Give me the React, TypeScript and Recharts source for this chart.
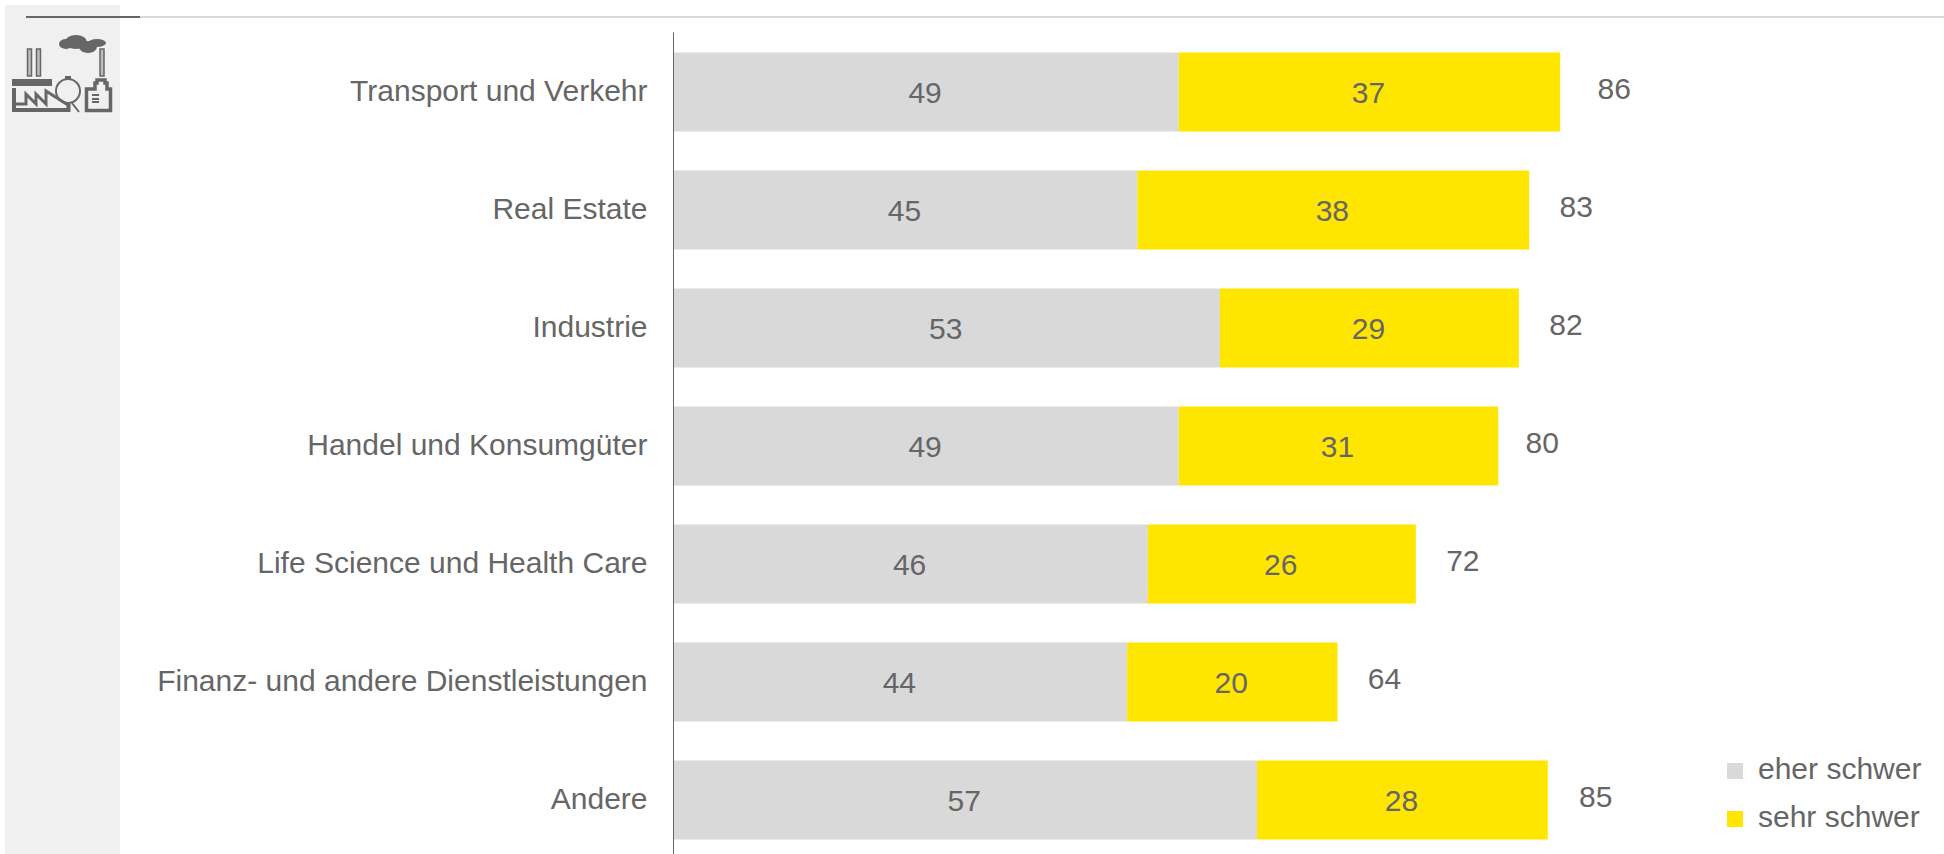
import { Bar, BarChart, LabelList, XAxis, YAxis } from "recharts";

const categories = [
  "Transport und Verkehr",
  "Real Estate",
  "Industrie",
  "Handel und Konsumgüter",
  "Life Science und Health Care",
  "Finanz- und andere Dienstleistungen",
  "Andere",
];
const eherSchwer = [49, 45, 53, 49, 46, 44, 56.6];
const sehrSchwer = [37, 38, 29, 31, 26, 20.4, 28.2];
const totals = [86, 83, 82, 80, 72, 64, 85];

const rows = categories.map((name, i) => ({
  name,
  eher: eherSchwer[i],
  sehr: sehrSchwer[i],
  total: totals[i],
}));

const FONT = '"Liberation Sans", Arial, sans-serif';
const TEXT = "#666666";
const GREY = "#d9d9d9";
const YELLOW = "#ffe600";

// the totals sit by hand in the original, not all at the same gap from the bar
const totalGap: Record<string, number> = { "86": 54, "80": 44, "85": 48 };

function TotalLabel({ x, y, width, height, value }: any) {
  return (
    <text
      x={x + width + (totalGap[value] ?? 47)}
      y={y + height / 2 - 4}
      textAnchor="middle"
      dominantBaseline="central"
      fontSize={30}
      fontFamily={FONT}
      fill={TEXT}
    >
      {value}
    </text>
  );
}

function InnerLabel({ x, y, width, height, value }: any) {
  return (
    <text
      x={x + width / 2 - 1}
      y={y + height / 2}
      textAnchor="middle"
      dominantBaseline="central"
      fontSize={30}
      fontFamily={FONT}
      fill={TEXT}
    >
      {Math.round(value)}
    </text>
  );
}

function LegendBox() {
  const items = [
    { label: "eher schwer", color: GREY },
    { label: "sehr schwer", color: YELLOW },
  ];
  return (
    <div style={{ position: "absolute", left: 1727, top: 746, fontFamily: FONT, fontSize: 30, color: TEXT }}>
      {items.map((item) => (
        <div key={item.label} style={{ display: "flex", alignItems: "center", height: 48 }}>
          <span style={{ width: 16, height: 16, background: item.color, marginRight: 15, marginTop: 1 }} />
          <span style={{ marginTop: -3 }}>{item.label}</span>
        </div>
      ))}
    </div>
  );
}

function IndustryIcon() {
  const ink = "#666666";
  return (
    <svg width={120} height={120} style={{ position: "absolute", left: 0, top: 0 }}>
      <g fill={ink}>
        <ellipse cx={66} cy={44} rx={7} ry={5} />
        <ellipse cx={76} cy={42} rx={11} ry={7} />
        <ellipse cx={88} cy={47} rx={9} ry={6} />
        <ellipse cx={97} cy={43} rx={9} ry={4} />
        <rect x={12} y={79} width={40} height={7} />
        <rect x={65} y={76} width={6} height={3} />
        <rect x={92} y={94} width={7} height={2} />
        <rect x={92} y={98} width={7} height={2} />
        <rect x={92} y={101} width={7} height={2} />
      </g>
      <g fill="#bdbdbd" stroke={ink} strokeWidth={1.5}>
        <rect x={27.5} y={49} width={4} height={27} />
        <rect x={36.5} y={49} width={4} height={27} />
        <rect x={100} y={49} width={4} height={27} />
      </g>
      <g fill="none" stroke={ink}>
        <path d="M14 88V110H68.5V104" strokeWidth={4} />
        <path d="M16 104H26V94L36 104V94L46 104V91L68 105" strokeWidth={3} />
        <path d="M86.5 110.5V89H95V83H97V80H105V83H107V89H110.5V110.5Z" strokeWidth={3.5} />
        <circle cx={68} cy={91} r={12} strokeWidth={2} />
        <line x1={72} y1={103} x2={79} y2={112} strokeWidth={2} />
      </g>
    </svg>
  );
}

export default function App() {
  return (
    <div style={{ position: "absolute", left: 0, top: 0, width: 1944, height: 854, overflow: "hidden", background: "#fff" }}>
      <div style={{ position: "absolute", left: 5, top: 5, width: 115, height: 849, background: "#f0f0f0" }} />
      <div style={{ position: "absolute", left: 26, top: 16, width: 1918, height: 2, background: "#d9d9d9" }} />
      <div style={{ position: "absolute", left: 26, top: 16, width: 114, height: 2, background: "#666666" }} />
      <IndustryIcon />
      <div style={{ position: "absolute", left: 0, top: 0 }}>
        <BarChart
          width={1944}
          height={860}
          data={rows}
          layout="vertical"
          barSize={79}
          margin={{ top: 32.5, right: 239.5, bottom: 1.5, left: 173.5 }}
        >
          <XAxis type="number" domain={[0, 100]} hide />
          <YAxis
            type="category"
            dataKey="name"
            width={500}
            interval={0}
            axisLine={{ stroke: "#666666", strokeWidth: 1 }}
            tickLine={false}
            tickMargin={20}
            tick={{ fill: TEXT, fontSize: 30, fontFamily: FONT, dy: -1 }}
          />
          <Bar dataKey="eher" stackId="a" fill={GREY} isAnimationActive={false}>
            <LabelList dataKey="eher" content={<InnerLabel />} />
          </Bar>
          <Bar dataKey="sehr" stackId="a" fill={YELLOW} isAnimationActive={false}>
            <LabelList dataKey="sehr" content={<InnerLabel />} />
            <LabelList dataKey="total" content={<TotalLabel />} />
          </Bar>
        </BarChart>
      </div>
      <LegendBox />
    </div>
  );
}
